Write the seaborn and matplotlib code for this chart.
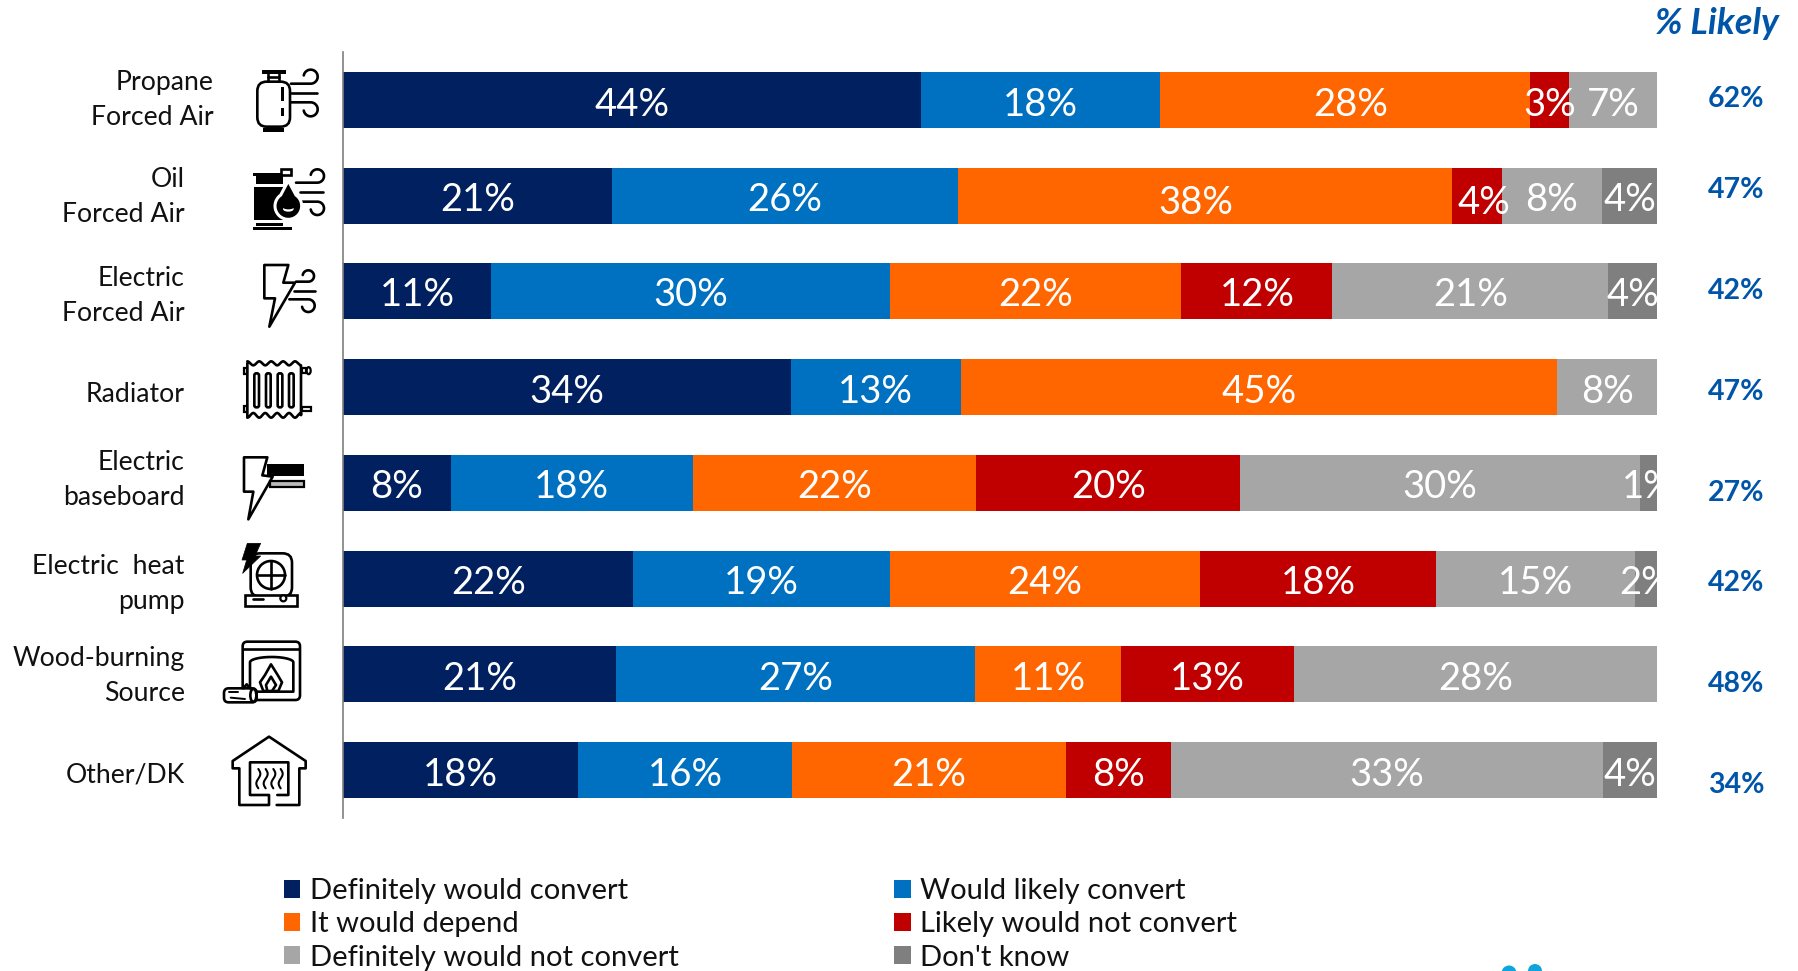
import numpy as np
import pandas as pd
import matplotlib
matplotlib.use("Agg")
import matplotlib.pyplot as plt
from matplotlib.transforms import ScaledTranslation
from matplotlib.patches import Rectangle, Circle, Polygon, FancyBboxPatch, Ellipse
import seaborn as sns

systems = ["Propane\nForced Air", "Oil\nForced Air", "Electric\nForced Air", "Radiator",
           "Electric\nbaseboard", "Electric  heat\npump", "Wood-burning\nSource", "Other/DK"]
series_names = ["Definitely would convert", "Would likely convert", "It would depend",
                "Likely would not convert", "Definitely would not convert", "Don't know"]
definitely = [44.0, 20.5, 11.3, 34.1, 8.2, 22.1, 20.8, 17.9]
likely = [18.2, 26.3, 30.3, 12.9, 18.4, 19.5, 27.3, 16.3]
depend = [28.1, 37.6, 22.2, 45.4, 21.6, 23.6, 11.1, 20.8]
likely_not = [3.0, 3.8, 11.5, 0, 20.1, 18.0, 13.2, 8.0]
definitely_not = [6.7, 7.6, 21.0, 7.6, 30.4, 15.1, 27.6, 32.9]
dont_know = [0, 4.2, 3.7, 0, 1.3, 1.7, 0, 4.1]
lab_definitely = [44, 21, 11, 34, 8, 22, 21, 18]
lab_likely = [18, 26, 30, 13, 18, 19, 27, 16]
lab_depend = [28, 38, 22, 45, 22, 24, 11, 21]
lab_likely_not = [3, 4, 12, None, 20, 18, 13, 8]
lab_definitely_not = [7, 8, 21, 8, 30, 15, 28, 33]
lab_dont_know = [None, 4, 4, None, 1, 2, None, 4]
pct_likely = [62, 47, 42, 47, 27, 42, 48, 34]
colors = ["#002060", "#0070C0", "#FF6600", "#C00000", "#A6A6A6", "#7F7F7F"]

W, H = 1798, 971
sns.set_theme(style="white")
plt.rcParams["font.family"] = ["Lato", "DejaVu Sans"]
fig = plt.figure(figsize=(W / 100, H / 100), dpi=100, facecolor="white")
ax = fig.add_axes([343 / W, 1 - 818 / H, (1657 - 343) / W, (818 - 52) / H])

values = np.array([definitely, likely, depend, likely_not, definitely_not, dont_know], dtype=float)
labels = [lab_definitely, lab_likely, lab_depend, lab_likely_not, lab_definitely_not, lab_dont_know]
cum = values.cumsum(axis=0)
for k in range(5, -1, -1):
    df = pd.DataFrame({"system": systems, "cum": cum[k]})
    sns.barplot(data=df, x="cum", y="system", orient="y", color=colors[k], saturation=1,
                width=0.585, ax=ax, label=series_names[k], linewidth=0)
h, l = ax.get_legend_handles_labels()
if ax.get_legend() is not None:
    ax.get_legend().remove()
ax.set_xlim(0, 100)
ax.set_ylim(7.5, -0.5)
ax.set_xlabel("")
ax.set_ylabel("")
ax.xaxis.set_visible(False)
for s in ["top", "right", "bottom"]:
    ax.spines[s].set_visible(False)
ax.spines["left"].set_color("#7F7F7F")
ax.spines["left"].set_linewidth(1.2)

# bar value labels
nudge = {(1, 2): (-9, 3), (1, 3): (7, 3), (0, 2): (6, 0)}
row_dy = [2, 1, 0, 1, 1, 1, 1, 1]
for k in range(6):
    start = cum[k] - values[k]
    for i, lab in enumerate(labels[k]):
        if lab is None:
            continue
        dx, dy = nudge.get((i, k), (0, 0))
        t = ax.text(start[i] + values[k][i] / 2, i, f"{lab}%", color="white", fontsize=27.5,
                    ha="center", va="center_baseline", clip_on=True,
                    transform=ax.transData + ScaledTranslation(dx / 100, -(dy + row_dy[i]) / 100, fig.dpi_scale_trans))

# category labels: real tick labels
ax.set_yticks(range(8))
ax.set_yticklabels(systems, fontsize=19.2, color="#111111", linespacing=1.5, ha="right")
ax.tick_params(axis="y", length=0)
pads = [93, 114, 114, 114, 114, 114, 114, 114]
shift = [7.5, 6.5, 3, -5, 10.5, 2, 6, -2]
for tick, pad, sh in zip(ax.yaxis.get_major_ticks(), pads, shift):
    tick.set_pad(pad)
    lb = tick.label1
    lb.set_transform(lb.get_transform() + ScaledTranslation(0, sh / 100, fig.dpi_scale_trans))

# % Likely column
like_y = [99, 190, 291, 392, 493, 583, 684, 785]
for v, y in zip(pct_likely, like_y):
    fig.text(1736 / W, 1 - y / H, f"{v}%", color="#0055A8", fontsize=20.5, fontweight="bold",
             ha="center", va="center")
fig.text(1779 / W, 1 - 23 / H, "% Likely", color="#0055A8", fontsize=26, fontweight="bold",
         fontstyle="italic", ha="right", va="center")

# legend in row-wise order
by = dict(zip(l, h))
order = [0, 2, 4, 1, 3, 5]
leg = fig.legend([by[series_names[i]] for i in order], [series_names[i] for i in order],
                 ncol=2, loc="upper left", bbox_to_anchor=(284 / W, 1 - 878 / H), frameon=False,
                 fontsize=21, handlelength=0.56, handleheight=0.56, handletextpad=0.32,
                 labelspacing=0.25, columnspacing=7.4, borderpad=0, borderaxespad=0,
                 labelcolor="#111111")

# icons in figure pixel space
ic = fig.add_axes([0, 0, 1, 1], facecolor="none")
ic.set_xlim(0, W)
ic.set_ylim(H, 0)
ic.axis("off")
LW = 1.9


def crop(x0, y0):
    return lambda x, y: (x0 + x / 3, y0 + y / 3)


def line(P, pts, lw=LW, color="black", closed=False, fill=None, z=3):
    q = [P(*a) for a in pts]
    if closed or fill:
        ic.add_patch(Polygon(q, closed=True, fc=fill or "none", ec=color, lw=lw, joinstyle="round", zorder=z))
    else:
        ic.plot([a[0] for a in q], [a[1] for a in q], color=color, lw=lw, solid_capstyle="round",
                solid_joinstyle="round", zorder=z)


def rbox(P, x1, y1, x2, y2, r, lw=LW, fc="none", ec="black", z=3):
    a, b = P(x1, y1), P(x2, y2)
    ic.add_patch(FancyBboxPatch((a[0] + r / 3, a[1] + r / 3), b[0] - a[0] - 2 * r / 3, b[1] - a[1] - 2 * r / 3,
                                boxstyle=f"round,pad={r / 3}", fc=fc, ec=ec, lw=lw, zorder=z))


def box(P, x1, y1, x2, y2, fc="black", ec="none", lw=0, z=3):
    a, b = P(x1, y1), P(x2, y2)
    ic.add_patch(Rectangle(a, b[0] - a[0], b[1] - a[1], fc=fc, ec=ec, lw=lw, zorder=z))


def curl(P, x0, cx, cy, r, up=True):
    if up:
        t = np.radians(np.linspace(90, -170, 40))
    else:
        t = np.radians(np.linspace(-90, 170, 40))
    pts = [(x0, cy + (r if up else -r))] + list(zip(cx + r * np.cos(t), cy + r * np.sin(t)))
    line(P, pts)


# propane
P = crop(220, 60)
rbox(P, 112, 65, 210, 200, 28)
box(P, 125, 30, 197, 41)
box(P, 130, 203, 192, 216)
line(P, [(145, 41), (145, 64)])
line(P, [(178, 41), (178, 64)])
line(P, [(145, 52), (178, 52)])
box(P, 182, 82, 192, 122)
box(P, 182, 143, 192, 167)
curl(P, 213, 272, 50, 21, True)
line(P, [(213, 100), (292, 100)])
curl(P, 213, 272, 148, 21, False)

# oil
box(P, 100, 338, 200, 347)
box(P, 108, 347, 190, 372)
box(P, 103, 380, 190, 480)
box(P, 108, 488, 190, 497)
box(P, 100, 500, 216, 509)
box(P, 183, 326, 213, 346, fc="white", ec="black", lw=LW)
th = np.radians(np.linspace(-55, 235, 40))
drop = [(205, 362)] + list(zip(205 + 40 * np.cos(th), 438 + 40 * np.sin(th)))
ic.add_patch(Polygon([P(*a) for a in drop], closed=True, fc="black", ec="white", lw=2.2, zorder=4))
ic.add_patch(Ellipse(P(205, 447), 32 / 3, 16 / 3, fc="white", ec="none", zorder=5))
ic.add_patch(Ellipse(P(205, 441), 34 / 3, 14 / 3, fc="black", ec="none", zorder=6))
curl(P, 228, 292, 348, 20, True)
line(P, [(240, 397), (310, 397)])
curl(P, 228, 292, 445, 20, False)

# electric forced air
line(P, [(133, 615), (205, 615), (190, 668), (225, 668), (148, 800), (165, 715), (133, 715)], closed=True)
curl(P, 228, 265, 648, 17, True)
line(P, [(222, 692), (285, 692)])
curl(P, 208, 265, 737, 19, False)

# radiator
P = crop(220, 350)
xs = np.linspace(82, 243, 120)
top = 40 - 6 * np.sin((xs - 82) / 161 * 2 * np.pi * 4.5 + np.pi / 2)
bot = 196 + 7 * np.sin((xs - 82) / 161 * 2 * np.pi * 4.5 + np.pi / 2)
line(P, list(zip(xs, top)) + [(243, 195)] + list(zip(xs[::-1], bot[::-1])) + [(82, 40)])
for cx in [110, 145, 180, 214]:
    rbox(P, cx - 7, 70, cx + 7, 172, 6)
box(P, 72, 55, 82, 73, fc="white", ec="black", lw=1.6)
box(P, 72, 168, 82, 186, fc="white", ec="black", lw=1.6)
box(P, 245, 55, 258, 70, fc="white", ec="black", lw=1.6)
ic.add_patch(Ellipse(P(266, 62), 4, 7, fc="white", ec="black", lw=1.6, zorder=3))
box(P, 245, 171, 272, 183, fc="white", ec="black", lw=1.6)

# baseboard
line(P, [(72, 322), (142, 322), (127, 376), (158, 380), (85, 508), (100, 425), (72, 425)], closed=True)
box(P, 140, 342, 252, 378)
box(P, 150, 392, 252, 412, fc="#BBBBBB", ec="black", lw=1.6)

# heat pump
rbox(P, 92, 610, 216, 740, 28)
box(P, 75, 735, 232, 768, fc="white", ec="black", lw=LW)
ic.add_patch(Circle(P(153, 675), 42 / 3, fc="white", ec="black", lw=LW, zorder=4))
line(P, [(153, 634), (153, 716)], z=5)
line(P, [(112, 675), (194, 675)], z=5)
line(P, [(98, 748), (128, 748)], z=5)
ic.add_patch(Circle(P(190, 745), 3, fc="white", ec="black", lw=1.6, zorder=5))
line(P, [(82, 580), (122, 580), (105, 618), (122, 618), (68, 670), (80, 630), (66, 630)], fill="black", lw=0.5, z=6)

# fireplace
P = crop(210, 625)
rbox(P, 98, 50, 270, 225, 14)
line(P, [(100, 72), (268, 72)])
t = np.linspace(np.pi, 2 * np.pi, 40)
line(P, [(120, 200)] + list(zip(185 + 65 * np.cos(t), 112 + 16 * np.sin(t))) + [(250, 200), (120, 200)])
line(P, [(183, 118), (203, 150), (216, 172), (205, 198), (160, 198), (150, 172), (165, 150)], closed=True, fill="white")
line(P, [(183, 155), (198, 180), (186, 198), (172, 198), (168, 180)], closed=True, fill="white")
rbox(P, 42, 190, 140, 232, 14, fc="white")
ic.add_patch(Ellipse(P(130, 211), 6, 13, fc="white", ec="black", lw=LW, zorder=4))
line(P, [(58, 202), (85, 202)], lw=1.4, z=5)
line(P, [(62, 218), (105, 222)], lw=1.4, z=5)
line(P, [(100, 190), (110, 178), (120, 190)], z=5)

# other / house
line(P, [(200, 540), (268, 540), (268, 430), (287, 430), (287, 408), (177, 335), (68, 408), (68, 430),
         (88, 430), (88, 540), (177, 540), (177, 510), (120, 510), (120, 412), (235, 412), (235, 510), (202, 510)])
for sx in [145, 167, 190, 212]:
    yy = np.linspace(432, 490, 30)
    line(P, list(zip(sx + 6 * np.sin((yy - 432) / 58 * 2 * np.pi), yy)), lw=1.5)

# cropped logo dots
ic.add_patch(Circle((1509, 973), 7.5, fc="#0FA4DC", ec="none", clip_on=True))
ic.add_patch(Circle((1535, 971), 7, fc="#0FA4DC", ec="none", clip_on=True))

fig.savefig("out.png", dpi=100, facecolor="white")
